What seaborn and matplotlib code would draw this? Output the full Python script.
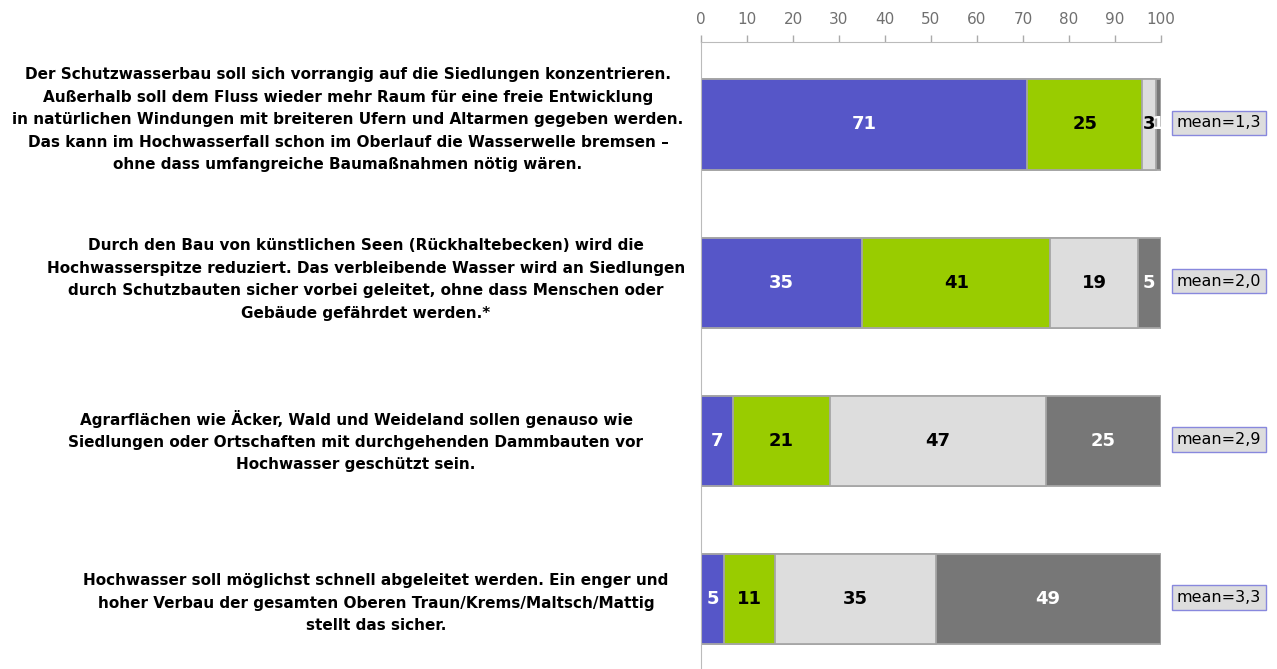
import matplotlib
matplotlib.use("Agg")
import matplotlib.pyplot as plt
import matplotlib.transforms as mtransforms
import seaborn as sns
import numpy as np
import pandas as pd

# statements (left labels)
statements = [
    "Der Schutzwasserbau soll sich vorrangig auf die Siedlungen konzentrieren.\n"
    "Außerhalb soll dem Fluss wieder mehr Raum für eine freie Entwicklung\n"
    "in natürlichen Windungen mit breiteren Ufern und Altarmen gegeben werden.\n"
    "Das kann im Hochwasserfall schon im Oberlauf die Wasserwelle bremsen –\n"
    "ohne dass umfangreiche Baumaßnahmen nötig wären.",
    "Durch den Bau von künstlichen Seen (Rückhaltebecken) wird die\n"
    "Hochwasserspitze reduziert. Das verbleibende Wasser wird an Siedlungen\n"
    "durch Schutzbauten sicher vorbei geleitet, ohne dass Menschen oder\n"
    "Gebäude gefährdet werden.*",
    "Agrarflächen wie Äcker, Wald und Weideland sollen genauso wie\n"
    "Siedlungen oder Ortschaften mit durchgehenden Dammbauten vor\n"
    "Hochwasser geschützt sein.",
    "Hochwasser soll möglichst schnell abgeleitet werden. Ein enger und\n"
    "hoher Verbau der gesamten Oberen Traun/Krems/Maltsch/Mattig\n"
    "stellt das sicher.",
]
items = ["A", "B", "C", "D"]

# answer shares in percent (1 = agree fully ... 4 = disagree)
s1 = [71, 35, 7, 5]
s2 = [25, 41, 21, 11]
s3 = [3, 19, 47, 35]
s4 = [1, 5, 25, 49]
means = ["1,3", "2,0", "2,9", "3,3"]

colors = ["#5656C8", "#99CC00", "#DDDDDD", "#777777"]
text_colors = ["white", "black", "black", "white"]
# horizontal centre of each statement block (figure fraction)
label_x = [348 / 1277, 366 / 1277, 356 / 1277, 376 / 1277]
label_dy = [-0.03, -0.02, 0.0, 0.025]

sns.set_style("white")
plt.rcParams["font.family"] = ["DejaVu Sans"]

df = pd.DataFrame({"item": items, "s1": s1, "s2": s2, "s3": s3, "s4": s4})
series = ["s1", "s2", "s3", "s4"]
cum = df[series].cumsum(axis=1)

fig = plt.figure(figsize=(12.77, 6.69), dpi=100)
ax = fig.add_axes([0.549, 0.0, 0.360, 0.937])

# stacked bars: draw cumulative totals from the back to the front
for k in range(len(series) - 1, -1, -1):
    sns.barplot(x=cum[series[k]], y=df["item"], orient="h", ax=ax,
                color=colors[k], saturation=1, width=0.57,
                edgecolor="#A6A6A6", linewidth=1.3)

ax.set_xlim(0, 100)
ax.set_ylim(3.44, -0.52)

blend = mtransforms.blended_transform_factory(fig.transFigure, ax.transData)

for i in range(len(df)):
    for k, s in enumerate(series):
        v = df.loc[i, s]
        xc = cum.loc[i, s] - v / 2
        ax.text(xc, i, f"{v}", ha="center", va="center", fontsize=13,
                fontweight="bold", color=text_colors[k])
    ax.text(103.5, i - 0.01, f"mean={means[i]}", ha="left", va="center",
            fontsize=11.5, color="black", clip_on=False,
            bbox=dict(boxstyle="square,pad=0.3", fc="#DDDDDD",
                      ec="#8888DD", lw=1))
    ax.text(label_x[i], i + label_dy[i], statements[i], ha="center",
            va="center", fontsize=11, fontweight="bold", linespacing=1.62,
            color="black", transform=blend, clip_on=False)

# axis styling: ticks on top
ax.xaxis.tick_top()
ax.set_xticks(np.arange(0, 101, 10))
ax.tick_params(axis="x", direction="out", length=5, width=1,
               color="#AAAAAA", labelcolor="#707070", labelsize=11, pad=6)
ax.set_yticks([])
ax.set_xlabel("")
ax.set_ylabel("")
for side in ["right", "bottom"]:
    ax.spines[side].set_visible(False)
ax.spines["top"].set_color("#BBBBBB")
ax.spines["left"].set_color("#BBBBBB")

fig.savefig("out.png", dpi=100)
